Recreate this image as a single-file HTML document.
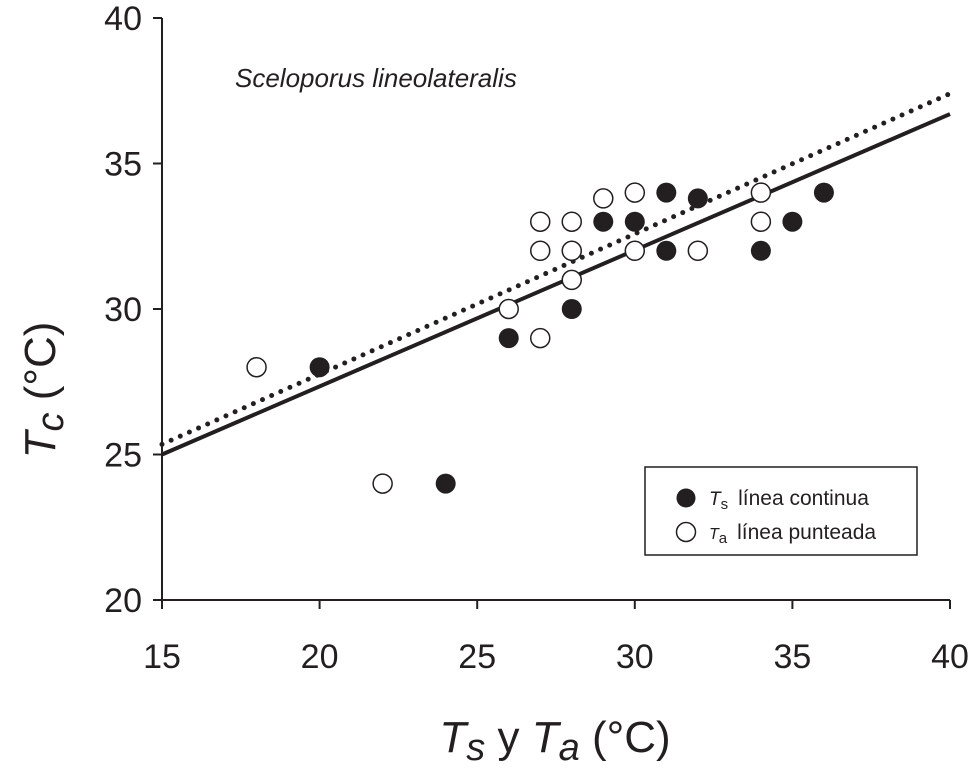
<!DOCTYPE html>
<html><head><meta charset="utf-8"><style>
body{margin:0;background:#fff}
svg text{font-family:"Liberation Sans",sans-serif;fill:#231f20}
</style></head><body>
<svg id="chart" width="973" height="765" viewBox="0 0 973 765" xmlns="http://www.w3.org/2000/svg">
<g id="axes"></g><g id="lines"></g><g id="pts"></g>
<text x="235" y="87" font-size="26" font-style="italic">Sceloporus lineolateralis</text>
<text transform="translate(55,390) rotate(-90)" font-size="44" text-anchor="middle"><tspan font-style="italic">T</tspan><tspan font-style="italic" font-size="38" dy="8">c</tspan><tspan dy="-8"> (°C)</tspan></text>
<text x="555" y="752" font-size="44" text-anchor="middle"><tspan font-style="italic">T</tspan><tspan font-style="italic" font-size="38" dy="8">s</tspan><tspan dy="-8"> y </tspan><tspan font-style="italic">T</tspan><tspan font-style="italic" font-size="38" dy="8">a</tspan><tspan dy="-8"> (°C)</tspan></text>
<g>
<rect x="645" y="467" width="272" height="88" fill="#fff" stroke="#231f20" stroke-width="1.5"/>
<circle cx="686" cy="498" r="9.5" fill="#231f20"/>
<circle cx="686" cy="532" r="9.5" fill="#fff" stroke="#231f20" stroke-width="1.5"/>
<text x="709" y="505" font-size="21"><tspan font-style="italic" font-size="19">T</tspan><tspan font-size="15" dy="4">s</tspan><tspan dy="-4" dx="10">línea continua</tspan></text>
<text x="709" y="539" font-size="21"><tspan font-style="italic" font-size="16">T</tspan><tspan font-size="15" dy="4">a</tspan><tspan dy="-4" dx="10">línea punteada</tspan></text>
</g>
</svg>
<script>
const xTicks=[15,20,25,30,35,40];
const yTicks=[20,25,30,35,40];
const tsX=[20,24,26,28,28,29,30,31,31,32,34,35,36];
const tsY=[28,24,29,30,32,33,33,34,32,33.8,32,33,34];
const taX=[18,22,26,27,27,27,28,28,28,29,30,30,32,34,34];
const taY=[28,24,30,29,32,33,33,32,31,33.8,34,32,32,34,33];
const solidLine=[[15,25],[40,36.7]];
const dottedLine=[[15,25.35],[40,37.4]];
const X=v=>162+(v-15)*(950-162)/25;
const Y=v=>600-(v-20)*(600-18)/20;
const NS='http://www.w3.org/2000/svg';
function mk(t,a,p){const e=document.createElementNS(NS,t);for(const k in a)e.setAttribute(k,a[k]);p.appendChild(e);return e;}
const ax=document.getElementById('axes');
const xa=mk('line',{x1:X(15),y1:600,x2:X(40),y2:600,stroke:'#231f20','stroke-width':2},ax);


const ya=mk('line',{x1:162,y1:Y(20),x2:162,y2:Y(40),stroke:'#231f20','stroke-width':2},ax);


xTicks.forEach(v=>{mk('line',{x1:X(v),y1:600,x2:X(v),y2:609,stroke:'#231f20','stroke-width':2},ax);
const t=mk('text',{x:X(v),y:668,'font-size':34,'text-anchor':'middle'},ax);t.textContent=v;

});
yTicks.forEach(v=>{mk('line',{x1:153,y1:Y(v),x2:162,y2:Y(v),stroke:'#231f20','stroke-width':2},ax);
const t=mk('text',{x:142,y:Y(v)+12,'font-size':34,'text-anchor':'end'},ax);t.textContent=v;

});
const ln=document.getElementById('lines');
const s=mk('line',{x1:X(solidLine[0][0]),y1:Y(solidLine[0][1]),x2:X(solidLine[1][0]),y2:Y(solidLine[1][1]),stroke:'#231f20','stroke-width':4},ln);


const d=mk('line',{x1:X(dottedLine[0][0]),y1:Y(dottedLine[0][1]),x2:X(dottedLine[1][0]),y2:Y(dottedLine[1][1]),stroke:'#231f20','stroke-width':5,'stroke-dasharray':'0 10','stroke-linecap':'round'},ln);


const pg=document.getElementById('pts');
tsX.forEach((v,i)=>{const c=mk('circle',{cx:X(v),cy:Y(tsY[i]),r:10,fill:'#231f20'},pg);

});
taX.forEach((v,i)=>{const c=mk('circle',{cx:X(v),cy:Y(taY[i]),r:9.5,fill:'#fff',stroke:'#231f20','stroke-width':1.5},pg);

});
</script>
</body></html>
